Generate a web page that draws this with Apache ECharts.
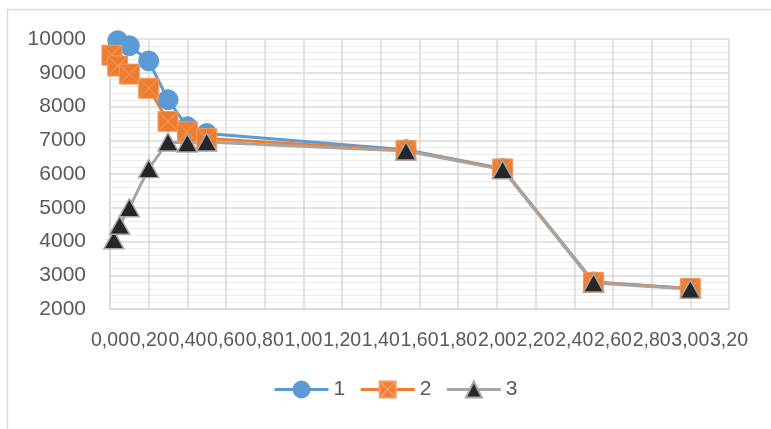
<!DOCTYPE html>
<html>
<head>
<meta charset="utf-8">
<script src="https://cdn.jsdelivr.net/npm/echarts@6/dist/echarts.min.js"></script>
<style>
  html, body { margin: 0; padding: 0; background: #fff; }
  #chart { width: 771px; height: 429px; }
</style>
</head>
<body>
<div id="chart"></div>
<script>
// Series names
const seriesNames = ['1', '2', '3'];

// Series 1 (x, y)
const x1 = [0.04, 0.10, 0.20, 0.30, 0.40, 0.50, 1.53, 2.03, 2.50, 3.00];
const y1 = [9950, 9800, 9350, 8200, 7400, 7200, 6720, 6160, 2800, 2610];

// Series 2 (x, y)
const x2 = [0.01, 0.04, 0.10, 0.20, 0.30, 0.40, 0.50, 1.53, 2.03, 2.50, 3.00];
const y2 = [9520, 9200, 8960, 8540, 7560, 7250, 7050, 6700, 6150, 2790, 2610];

// Series 3 (x, y)
const x3 = [0.02, 0.05, 0.10, 0.20, 0.30, 0.40, 0.50, 1.53, 2.03, 2.50, 3.00];
const y3 = [4050, 4480, 5000, 6160, 6950, 6920, 6950, 6680, 6130, 2770, 2590];

// Axis ranges
const xMin = 0, xMax = 3.2, xStep = 0.2;
const yMin = 2000, yMax = 10000, yStep = 1000;

const pairs = (xs, ys) => xs.map((x, i) => [x, ys[i]]);

const labelFont = 'Liberation Sans';
const labelColor = '#595959';

const squareX = 'path://M0,0H10V10H0Z M0,0L10,10 M10,0L0,10';

const chart = echarts.init(document.getElementById('chart'), null, { renderer: 'canvas' });
chart.setOption({
  animation: false,
  backgroundColor: '#ffffff',
  graphic: [{
    type: 'rect',
    shape: { x: 7.5, y: 9.5, width: 900, height: 600 },
    style: { fill: 'none', stroke: '#D9D9D9', lineWidth: 1.5 },
    silent: true
  }],
  grid: { left: 110, right: 42, top: 39, bottom: 120, containLabel: false },
  legend: {
    data: seriesNames,
    bottom: 24,
    left: 268,
    itemWidth: 54,
    itemHeight: 20,
    itemGap: 14,
    lineStyle: { width: 3 },
    textStyle: { fontFamily: labelFont, fontSize: 21, color: labelColor }
  },
  xAxis: {
    type: 'value',
    min: xMin, max: xMax, interval: xStep,
    axisLine: { show: true, lineStyle: { color: '#D9D9D9', width: 1.5 } },
    axisTick: { show: false },
    splitLine: { show: true, lineStyle: { color: '#D9D9D9', width: 1.5 } },
    axisLabel: {
      margin: 22,
      showMinLabel: true, showMaxLabel: true,
      fontFamily: labelFont, fontSize: 19.5, color: labelColor,
      formatter: v => v.toFixed(2).replace('.', ',')
    }
  },
  yAxis: {
    type: 'value',
    min: yMin, max: yMax, interval: yStep,
    axisLine: { show: true, lineStyle: { color: '#D9D9D9', width: 1.5 } },
    axisTick: { show: false },
    splitLine: { show: true, lineStyle: { color: '#D9D9D9', width: 1.5 } },
    minorTick: { show: false, splitNumber: 5 },
    minorSplitLine: { show: true, lineStyle: { color: '#ECECEC', width: 1 } },
    axisLabel: {
      margin: 24,
      showMinLabel: true, showMaxLabel: true,
      fontFamily: labelFont, fontSize: 21, color: labelColor,
      formatter: v => String(v)
    }
  },
  series: [
    {
      name: seriesNames[0], type: 'line', data: pairs(x1, y1),
      symbol: 'circle', symbolSize: 20,
      lineStyle: { color: '#5B9BD5', width: 3 },
      itemStyle: { color: '#5B9BD5', borderColor: '#5B9BD5', borderWidth: 1 }
    },
    {
      name: seriesNames[1], type: 'line', data: pairs(x2, y2),
      symbol: squareX, symbolSize: 20,
      lineStyle: { color: '#ED7D31', width: 3 },
      itemStyle: { color: '#ED7D31', borderColor: '#F29B5E', borderWidth: 1 }
    },
    {
      name: seriesNames[2], type: 'line', data: pairs(x3, y3),
      symbol: 'triangle', symbolSize: [20, 18],
      lineStyle: { color: '#A5A5A5', width: 3 },
      itemStyle: { color: '#262626', borderColor: '#A5A5A5', borderWidth: 1.5 }
    }
  ]
});
</script>
</body>
</html>
